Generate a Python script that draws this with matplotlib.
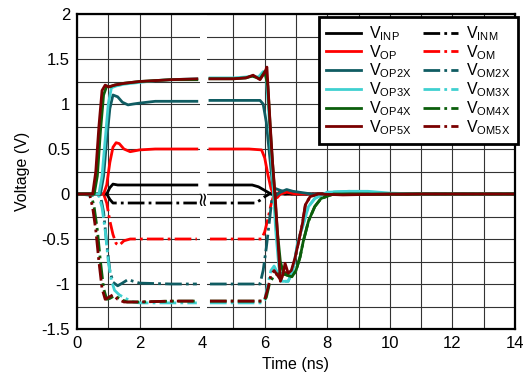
import numpy as np
import matplotlib
matplotlib.use('Agg')
import matplotlib.pyplot as plt

plt.rcParams['font.family'] = 'Liberation Sans'
plt.rcParams['mathtext.fontset'] = 'custom'
plt.rcParams['mathtext.rm'] = 'Liberation Sans'
plt.rcParams['mathtext.it'] = 'Liberation Sans:italic'

# --- data (time in ns, voltage in V) ---
inp_t = [0, 0.95, 1.05, 1.15, 1.3, 2.0, 3.83, 4.25, 5.6, 5.8, 6.0, 6.15, 6.3, 7.0, 14]
inp_v = [0, 0, 0.07, 0.11, 0.1, 0.1, 0.1, 0.1, 0.1, 0.08, 0.04, 0.01, 0.0, 0.0, 0.0]

inm_t = [0, 0.95, 1.05, 1.15, 1.3, 3.83, 4.25, 5.7, 5.85, 6.0, 6.15, 14]
inm_v = [0, 0, -0.06, -0.1, -0.1, -0.1, -0.1, -0.1, -0.07, -0.03, 0, 0]

op_t = [0, 0.85, 0.95, 1.05, 1.15, 1.25, 1.35, 1.5, 1.7, 2.0, 2.5, 3.83,
        4.25, 5.5, 5.9, 6.0, 6.1, 6.2, 6.3, 6.4, 6.5, 6.7, 7.0, 14]
op_v = [0, 0, 0.1, 0.35, 0.52, 0.57, 0.56, 0.5, 0.47, 0.49, 0.5, 0.5,
        0.5, 0.5, 0.49, 0.4, 0.22, 0.06, -0.02, -0.04, 0.0, 0.02, 0.0, 0]

om_t = [0, 0.85, 0.95, 1.05, 1.15, 1.25, 1.35, 1.5, 1.7, 2.0, 3.83,
        4.25, 5.9, 6.0, 6.1, 6.2, 6.3, 6.4, 6.5, 6.7, 7.0, 14]
om_v = [0, 0, -0.1, -0.3, -0.45, -0.55, -0.57, -0.52, -0.5, -0.5, -0.5,
        -0.5, -0.5, -0.42, -0.28, -0.12, 0.0, 0.04, 0.02, 0.0, 0.0, 0]

op2x_t = [0, 0.75, 0.85, 0.95, 1.05, 1.15, 1.3, 1.45, 1.63, 1.8, 2.0, 2.5, 3.0, 3.83,
          4.25, 5.0, 5.5, 5.85, 5.95, 6.05, 6.15, 6.25, 6.35, 6.5, 6.7, 6.9, 7.5, 14]
op2x_v = [0, 0, 0.2, 0.6, 0.95, 1.1, 1.08, 1.02, 0.99, 1.0, 1.01, 1.03, 1.03, 1.03,
          1.04, 1.04, 1.04, 1.04, 1.0, 0.8, 0.45, 0.1, -0.02, 0.02, 0.05, 0.03, 0.0, 0.0]

om2x_t = [0, 0.75, 0.85, 0.95, 1.05, 1.15, 1.3, 1.45, 1.63, 1.8, 2.0, 3.0, 3.83,
          4.25, 5.0, 5.85, 5.95, 6.05, 6.15, 6.25, 6.35, 6.5, 6.7, 7.0, 14]
om2x_v = [0, -0.02, -0.2, -0.55, -0.85, -0.98, -1.02, -0.99, -0.95, -0.97, -0.99, -1.0, -1.0,
          -1.0, -1.0, -1.0, -0.85, -0.6, -0.3, 0.0, 0.06, 0.04, 0.02, 0.0, 0.0]

op3x_t = [0, 0.7, 0.8, 0.9, 1.0, 1.1, 1.25, 1.5, 2.0, 2.5, 3.0, 3.83,
          4.25, 5.0, 5.4, 5.6, 5.8, 5.95, 6.05, 6.15, 6.25, 6.35, 6.45, 6.55, 6.75,
          6.9, 7.06, 7.22, 7.4, 7.6, 8.0, 8.7, 9.3, 10, 11, 14]
op3x_v = [0, 0, 0.2, 0.6, 1.0, 1.18, 1.2, 1.22, 1.24, 1.26, 1.27, 1.28,
          1.29, 1.29, 1.3, 1.31, 1.3, 1.36, 1.3, 0.8, 0.2, -0.4, -0.8, -0.97, -0.97,
          -0.85, -0.53, -0.35, -0.14, -0.05, 0.02, 0.03, 0.03, 0.01, 0.0, 0.0]

om3x_t = [0, 0.7, 0.8, 0.9, 1.0, 1.1, 1.2, 1.35, 1.55, 1.8, 2.0, 3.0, 3.83,
          4.25, 5.0, 5.9, 6.0, 6.1, 6.2, 6.3, 6.45, 6.6, 6.75, 6.9, 7.06, 7.22,
          7.4, 7.6, 8.0, 8.7, 9.3, 10, 14]
om3x_v = [0, -0.02, -0.15, -0.4, -0.75, -0.96, -1.07, -1.12, -1.16, -1.2, -1.21, -1.21, -1.21,
          -1.21, -1.21, -1.21, -1.18, -1.0, -0.85, -0.8, -0.9, -0.97, -0.97, -0.85, -0.53, -0.35,
          -0.14, -0.05, 0.02, 0.03, 0.02, 0.0, 0.0]

op4x_t = [0, 0.55, 0.65, 0.75, 0.85, 0.95, 1.05, 1.2, 1.5, 2.0, 2.5, 3.0, 3.83,
          4.25, 5.0, 5.4, 5.6, 5.85, 6.0, 6.1, 6.2, 6.3, 6.4, 6.5, 6.6, 6.7, 6.87,
          7.0, 7.13, 7.23, 7.4, 7.6, 7.8, 8.2, 10, 14]
op4x_v = [0, 0, 0.2, 0.7, 1.1, 1.2, 1.19, 1.21, 1.23, 1.25, 1.26, 1.27, 1.27,
          1.28, 1.28, 1.29, 1.31, 1.28, 1.36, 1.2, 0.6, 0.1, -0.4, -0.75, -0.88, -0.9, -0.92,
          -0.85, -0.7, -0.53, -0.3, -0.14, -0.05, 0.0, 0.0, 0.0]

om4x_t = [0, 0.45, 0.55, 0.65, 0.75, 0.85, 0.95, 1.05, 1.2, 1.4, 1.6, 2.0, 3.0, 3.83,
          4.25, 5.0, 5.95, 6.05, 6.15, 6.3, 6.5, 6.7, 6.87, 7.0, 7.13, 7.23, 7.4,
          7.6, 7.8, 8.2, 14]
om4x_v = [0, 0, -0.15, -0.4, -0.75, -1.05, -1.17, -1.16, -1.13, -1.17, -1.2, -1.2, -1.19, -1.19,
          -1.19, -1.19, -1.19, -1.15, -1.0, -0.9, -0.88, -0.9, -0.92, -0.85, -0.7, -0.53, -0.3,
          -0.14, -0.05, 0.0, 0.0]

op5x_t = [0, 0.5, 0.6, 0.7, 0.8, 0.9, 1.0, 1.2, 1.5, 2.0, 2.5, 3.0, 3.83,
          4.25, 5.0, 5.4, 5.63, 5.85, 6.0, 6.07, 6.17, 6.25, 6.33, 6.42, 6.5, 6.58,
          6.65, 6.75, 6.85, 6.97, 7.1, 7.2, 7.3, 7.45, 7.7, 8.5, 10, 14]
op5x_v = [0, 0, 0.25, 0.75, 1.15, 1.21, 1.19, 1.21, 1.23, 1.25, 1.26, 1.27, 1.28,
          1.28, 1.28, 1.29, 1.32, 1.27, 1.35, 1.41, 0.8, 0.35, 0.0, -0.5, -0.97, -0.9,
          -0.77, -0.88, -0.85, -0.71, -0.5, -0.34, -0.12, -0.03, 0.0, -0.01, 0.0, 0.0]

om5x_t = [0, 0.4, 0.5, 0.6, 0.7, 0.8, 0.9, 1.0, 1.15, 1.3, 1.5, 2.0, 3.0, 3.83,
          4.25, 5.0, 5.9, 6.0, 6.1, 6.2, 6.3, 6.4, 6.5, 6.6, 6.75, 6.85, 6.97,
          7.1, 7.2, 7.3, 7.45, 7.7, 14]
om5x_v = [0, 0, -0.15, -0.4, -0.75, -1.05, -1.17, -1.15, -1.12, -1.17, -1.2, -1.2, -1.19, -1.19,
          -1.19, -1.19, -1.19, -1.17, -1.05, -0.9, -0.85, -0.9, -0.95, -0.9, -0.85, -0.88, -0.72,
          -0.5, -0.34, -0.12, -0.03, 0.0, 0.0]

colors = ['black', '#ff0000', '#0f5c62', '#40d0d0', '#0b5e0b', '#7a0000']
op_names = ['INP', 'OP', 'OP2X', 'OP3X', 'OP4X', 'OP5X']
om_names = ['INM', 'OM', 'OM2X', 'OM3X', 'OM4X', 'OM5X']
op_data = [(inp_t, inp_v), (op_t, op_v), (op2x_t, op2x_v),
           (op3x_t, op3x_v), (op4x_t, op4x_v), (op5x_t, op5x_v)]
om_data = [(inm_t, inm_v), (om_t, om_v), (om2x_t, om2x_v),
           (om3x_t, om3x_v), (om4x_t, om4x_v), (om5x_t, om5x_v)]

t_break = 4.0


def with_break(t, v):
    # time axis is cut at 4 ns: drop a NaN in so the trace has a gap
    t = np.asarray(t, float)
    v = np.asarray(v, float)
    i = np.searchsorted(t, t_break)
    return np.insert(t, i, np.nan), np.insert(v, i, np.nan)


fig = plt.figure(figsize=(5.26, 3.75), dpi=100)
ax = fig.add_axes([77 / 526, 46 / 375, 438 / 526, 315 / 375])

dashdot = (0, (6.0, 1.5, 1.0, 1.5))
lw = 2.0

handles = []
for (t, v), c, n in zip(om_data, colors, om_names):
    tt, vv = with_break(t, v)
    h, = ax.plot(tt, vv, color=c, lw=lw, linestyle=dashdot,
                 dash_capstyle='butt', label=r'V$_{\mathrm{%s}}$' % n)
    handles.append(h)
op_handles = []
for (t, v), c, n in zip(op_data, colors, op_names):
    tt, vv = with_break(t, v)
    h, = ax.plot(tt, vv, color=c, lw=lw, label=r'V$_{\mathrm{%s}}$' % n)
    op_handles.append(h)

# axis break marker
ax.axvspan(3.92, 4.15, color='white', zorder=1.5, lw=0)
ax.text(4.0, -0.03, '\u2248', rotation=90, ha='center', va='center',
        fontsize=14, zorder=3, family='DejaVu Sans')

ax.set_xlim(0, 14)
ax.set_ylim(-1.5, 2)
ax.set_xticks(np.arange(0, 15, 2))
ax.set_xticks(np.arange(0, 15, 1), minor=True)
ax.set_yticks(np.arange(-1.5, 2.01, 0.5))
ax.set_yticks(np.arange(-1.5, 2.01, 0.25), minor=True)
ax.set_yticklabels(['-1.5', '-1', '-0.5', '0', '0.5', '1', '1.5', '2'])
ax.tick_params(which='both', length=0, labelsize=12, pad=5)
ax.set_axisbelow(True)
ax.grid(which='both', color='0.2', lw=0.8)
for s in ax.spines.values():
    s.set_linewidth(1.6)

ax.set_xlabel('Time (ns)', fontsize=11.5, labelpad=4)
ax.set_ylabel('Voltage (V)', fontsize=11.5, labelpad=8)

leg = ax.legend(op_handles + handles, [h.get_label() for h in op_handles + handles],
                ncol=2, loc='upper right', bbox_to_anchor=(1.006, 0.99),
                fontsize=11.5, frameon=True, fancybox=False, framealpha=1,
                edgecolor='black', handlelength=2.2, handletextpad=0.5,
                columnspacing=0.7, labelspacing=0.0, borderpad=0.45,
                borderaxespad=0)
leg.get_frame().set_linewidth(2)
leg.set_zorder(5)

fig.savefig('out.png', dpi=100)
